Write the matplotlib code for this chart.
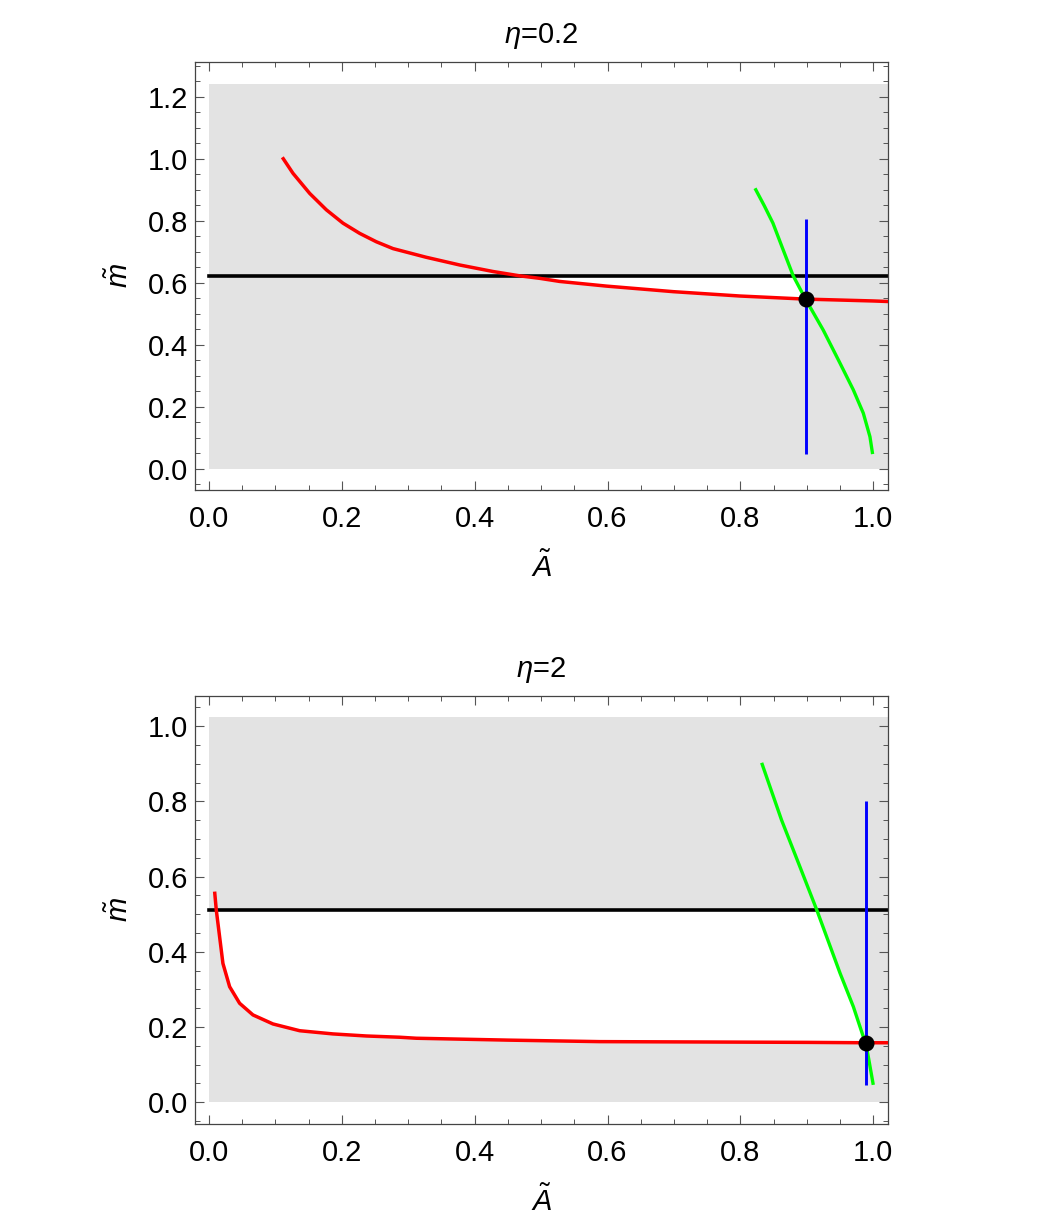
import numpy as np
import matplotlib.pyplot as plt
from matplotlib.ticker import MultipleLocator

plt.rcParams['font.family'] = ['Liberation Sans', 'DejaVu Sans']
plt.rcParams['mathtext.fontset'] = 'custom'
plt.rcParams['mathtext.it'] = 'Liberation Sans:italic'
plt.rcParams['mathtext.rm'] = 'Liberation Sans'

# ---- eta = 0.2 panel ----
top_black = 0.622
top_red_x = [0.1105, 0.1265, 0.1517, 0.1768, 0.2018, 0.227, 0.252, 0.277, 0.327, 0.3776,
             0.4277, 0.468, 0.498, 0.528, 0.598, 0.699, 0.799, 0.898, 1.0, 1.025]
top_red_y = [1.0045, 0.953, 0.888, 0.835, 0.792, 0.759, 0.732, 0.710, 0.682, 0.657,
             0.636, 0.622, 0.614, 0.604, 0.589, 0.571, 0.557, 0.547, 0.541, 0.539]
top_green_x = [0.822, 0.836, 0.849, 0.864, 0.8795, 0.898, 0.9247, 0.950, 0.970, 0.985,
               0.995, 0.999]
top_green_y = [0.9045, 0.848, 0.792, 0.708, 0.622, 0.547, 0.447, 0.340, 0.254, 0.179,
               0.103, 0.047]
top_dot = (0.898, 0.547)
top_blue = (0.898, 0.047, 0.8045)

# ---- eta = 2 panel ----
bot_black = 0.511
bot_red_x = [0.0086, 0.0111, 0.0161, 0.0211, 0.0312, 0.0462, 0.0663, 0.0964, 0.1366,
             0.1867, 0.237, 0.287, 0.312, 0.450, 0.588, 0.750, 0.900, 0.9885, 1.025]
bot_red_y = [0.560, 0.511, 0.440, 0.369, 0.307, 0.263, 0.232, 0.208, 0.190,
             0.1815, 0.176, 0.1727, 0.170, 0.165, 0.161, 0.160, 0.159, 0.158, 0.158]
bot_green_x = [0.832, 0.862, 0.8896, 0.915, 0.950, 0.970, 0.985, 0.9885, 0.9925, 1.000]
bot_green_y = [0.9025, 0.750, 0.626, 0.511, 0.343, 0.254, 0.174, 0.158, 0.121, 0.046]
bot_dot = (0.9885, 0.158)
bot_blue = (0.9885, 0.046, 0.801)


def white_region(red_x, red_y, green_x, green_y, black, dot):
    # region between red curve (below) and black line (above), closed on the right by green
    rx = [x for x, y in zip(red_x, red_y) if y <= black and x <= dot[0]]
    ry = [y for x, y in zip(red_x, red_y) if y <= black and x <= dot[0]]
    gx = [x for x, y in zip(green_x, green_y) if dot[1] <= y <= black][::-1]
    gy = [y for x, y in zip(green_x, green_y) if dot[1] <= y <= black][::-1]
    px = rx + gx[1:] + [rx[0]]
    py = ry + gy[1:] + [black]
    return px, py


def panel(ax, title, red_x, red_y, green_x, green_y, black, dot, blue, gray_top, ylim):
    ax.set_xlim(-0.021, 1.022)
    ax.set_ylim(*ylim)
    ax.fill_between([0, 1.022], 0, gray_top, color='#e3e3e3', lw=0, zorder=0)
    px, py = white_region(red_x, red_y, green_x, green_y, black, dot)
    ax.fill(px, py, color='white', lw=0, zorder=1)
    ax.plot([0, 1.022], [black, black], color='black', lw=2.6, zorder=2)
    ax.plot(red_x, red_y, color='#ff0000', lw=2.5, zorder=3, solid_capstyle='butt',
            solid_joinstyle='round')
    ax.plot(green_x, green_y, color='#00ff00', lw=2.4, zorder=3, solid_capstyle='butt',
            solid_joinstyle='round')
    ax.plot([blue[0], blue[0]], [blue[1], blue[2]], color='#0000ff', lw=2.1, zorder=4,
            solid_capstyle='butt')
    ax.plot(*dot, 'o', color='black', ms=10.5, zorder=5)

    ax.set_title(title, fontsize=21, pad=14)
    ax.set_xlabel(r'$\tilde{A}$', fontsize=21, labelpad=13)
    ax.set_ylabel(r'$\tilde{m}$', fontsize=21, labelpad=10)
    ax.xaxis.set_major_locator(MultipleLocator(0.2))
    ax.xaxis.set_minor_locator(MultipleLocator(0.05))
    ax.yaxis.set_major_locator(MultipleLocator(0.2))
    ax.yaxis.set_minor_locator(MultipleLocator(0.05))
    ax.xaxis.set_major_formatter(lambda v, p: f'{v:.1f}')
    ax.yaxis.set_major_formatter(lambda v, p: f'{v:.1f}')
    ax.tick_params(which='both', direction='in', top=True, right=True, color='#555555',
                   labelsize=21)
    ax.tick_params(which='major', length=6.5, width=0.8)
    ax.tick_params(which='minor', length=3.5, width=0.7)
    ax.tick_params(axis='x', which='major', pad=11)
    ax.tick_params(axis='y', which='major', pad=5)
    for s in ax.spines.values():
        s.set_color('#444444')
        s.set_linewidth(0.9)


fig = plt.figure(figsize=(10.42, 12.30), dpi=100)
ax1 = fig.add_axes([0.1871, 0.6016, 0.6650, 0.3480])
ax2 = fig.add_axes([0.1871, 0.0862, 0.6650, 0.3479])

panel(ax1, r'$\eta$=0.2', top_red_x, top_red_y, top_green_x, top_green_y,
      top_black, top_dot, top_blue, 1.242, (-0.069, 1.312))
panel(ax2, r'$\eta$=2', bot_red_x, bot_red_y, bot_green_x, bot_green_y,
      bot_black, bot_dot, bot_blue, 1.023, (-0.058, 1.080))

fig.savefig('out.png', dpi=100)
